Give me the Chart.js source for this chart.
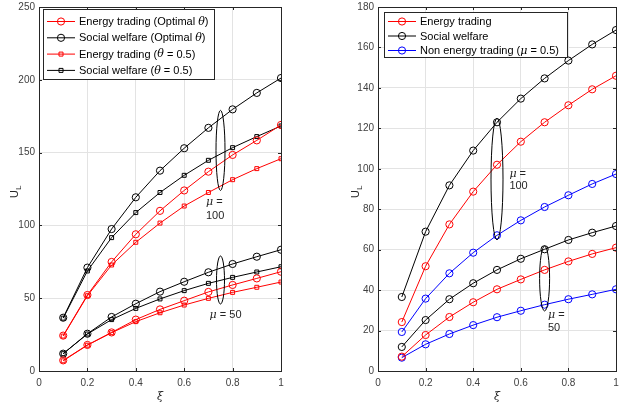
<!DOCTYPE html>
<html lang="en">
<head>
    <meta charset="UTF-8">
    <title>U_L versus xi</title>
    <script src="https://cdn.jsdelivr.net/npm/chart.js"></script>
    <style>
        body { margin: 0; background: #fff; }
        #wrap { position: relative; width: 621px; height: 406px; overflow: hidden; }
        canvas { position: absolute; top: 0; }
        #leftChart { left: 0; }
        #rightChart { left: 320px; }
    </style>
</head>
<body>
    <div id="wrap">
        <canvas id="leftChart" width="320" height="406"></canvas>
        <canvas id="rightChart" width="301" height="406"></canvas>
    </div>
    <script>
        // x values (xi)
        const xi = [0.1, 0.2, 0.3, 0.4, 0.5, 0.6, 0.7, 0.8, 0.9, 1.0];

        // left plot, mu = 100
        const leftSwOpt100 = [36.6, 71.0, 97.5, 119.3, 137.6, 153.0, 167.0, 179.7, 191.0, 201.2];
        const leftSwHalf100 = [36.3, 68.7, 91.6, 108.8, 122.6, 134.4, 144.7, 153.4, 161.0, 168.3];
        const leftEtOpt100 = [24.3, 52.2, 74.9, 93.9, 110.0, 124.0, 136.9, 148.4, 158.4, 169.0];
        const leftEtHalf100 = [24.0, 51.7, 72.8, 88.4, 101.6, 113.3, 122.6, 131.4, 139.0, 145.8];
        // left plot, mu = 50
        const leftSwOpt50 = [11.9, 25.6, 37.1, 46.2, 54.5, 61.3, 67.8, 73.5, 78.5, 83.3];
        const leftSwHalf50 = [11.9, 25.4, 35.3, 43.0, 49.5, 55.2, 60.2, 64.3, 68.0, 71.6];
        const leftEtOpt50 = [7.3, 17.9, 26.5, 35.3, 42.3, 48.3, 54.3, 59.1, 63.6, 68.2];
        const leftEtHalf50 = [7.0, 17.7, 26.3, 33.9, 40.0, 45.3, 49.9, 54.0, 57.5, 61.1];

        // right plot
        const rightSw100 = [36.6, 68.9, 91.8, 109.0, 123.0, 134.7, 144.7, 153.5, 161.5, 168.6];
        const rightEt100 = [24.2, 51.8, 72.5, 88.7, 102.0, 113.4, 123.0, 131.4, 139.3, 146.0];
        const rightNet100 = [19.3, 35.8, 48.3, 58.5, 67.1, 74.5, 81.1, 86.9, 92.5, 97.4];
        const rightSw50 = [11.9, 25.2, 35.5, 43.4, 50.0, 55.5, 60.2, 64.8, 68.4, 71.7];
        const rightEt50 = [7.1, 17.8, 26.7, 34.0, 40.4, 45.3, 50.0, 54.2, 57.9, 61.0];
        const rightNet50 = [6.6, 13.2, 18.3, 22.7, 26.6, 29.8, 32.8, 35.5, 37.9, 40.4];

        // axis ticks
        const xTicks = [0, 0.2, 0.4, 0.6, 0.8, 1];
        const leftYTicks = [0, 50, 100, 150, 200, 250];
        const rightYTicks = [0, 20, 40, 60, 80, 100, 120, 140, 160, 180];

        const RED = '#ff0000', BLACK = '#000000', BLUE = '#0000ff';
        const FRAME = '#262626';
        const FONT = '"Liberation Sans", Arial, sans-serif';

        function pts(ys) {
            return ys.map((y, i) => ({x: xi[i], y: y}));
        }

        function ds(label, ys, color, style) {
            return {
                label: label,
                data: pts(ys),
                borderColor: color,
                backgroundColor: 'rgba(0,0,0,0)',
                borderWidth: 1,
                pointStyle: style,
                pointRadius: style === 'rect' ? 2.8 : 3.6,
                pointBorderColor: color,
                pointBackgroundColor: 'rgba(0,0,0,0)',
                pointBorderWidth: 1,
                tension: 0
            };
        }

        // draw a run of text pieces, some italic serif (greek letters)
        function drawRich(ctx, parts, x, y, size) {
            let cx = x;
            parts.forEach(p => {
                ctx.font = p.it ? 'italic ' + size + 'px "DejaVu Serif", serif' : size + 'px ' + FONT;
                ctx.fillText(p.t, cx, y);
                cx += ctx.measureText(p.t).width;
            });
        }

        const decoPlugin = {
            id: 'deco',
            afterDatasetsDraw(chart, args, opts) {
                const ctx = chart.ctx;
                const a = chart.chartArea;
                const xs = chart.scales.x, ys = chart.scales.y;
                ctx.save();

                // frame and inward ticks
                ctx.strokeStyle = FRAME;
                ctx.lineWidth = 1;
                ctx.strokeRect(Math.round(a.left) + 0.5, Math.round(a.top) + 0.5,
                    Math.round(a.right - a.left), Math.round(a.bottom - a.top));
                ctx.beginPath();
                xTicks.forEach(v => {
                    const px = Math.round(xs.getPixelForValue(v)) + 0.5;
                    ctx.moveTo(px, a.bottom); ctx.lineTo(px, a.bottom - 3);
                    ctx.moveTo(px, a.top); ctx.lineTo(px, a.top + 3);
                });
                opts.yTicks.forEach(v => {
                    const py = Math.round(ys.getPixelForValue(v)) + 0.5;
                    ctx.moveTo(a.left, py); ctx.lineTo(a.left + 3, py);
                    ctx.moveTo(a.right, py); ctx.lineTo(a.right - 3, py);
                });
                ctx.stroke();

                // ellipses marking mu groups
                ctx.strokeStyle = '#000';
                opts.ellipses.forEach(e => {
                    const cx = xs.getPixelForValue(e.x);
                    const t = ys.getPixelForValue(e.yTop), b = ys.getPixelForValue(e.yBottom);
                    ctx.beginPath();
                    ctx.ellipse(cx, (t + b) / 2, e.rx, (b - t) / 2, 0, 0, Math.PI * 2);
                    ctx.stroke();
                });

                // annotation text
                ctx.fillStyle = '#262626';
                ctx.textBaseline = 'middle';
                ctx.textAlign = 'left';
                opts.notes.forEach(n => {
                    drawRich(ctx, n.parts, xs.getPixelForValue(n.x), ys.getPixelForValue(n.y), 11);
                });

                // legend
                const L = opts.legend;
                ctx.fillStyle = '#fff';
                ctx.fillRect(L.x, L.y, L.w, L.h);
                ctx.strokeStyle = FRAME;
                ctx.strokeRect(L.x + 0.5, L.y + 0.5, L.w, L.h);
                L.items.forEach((it, i) => {
                    const y = L.y + L.first + i * L.step;
                    const x0 = L.x + 4, x1 = L.x + 32, xm = (x0 + x1) / 2;
                    ctx.strokeStyle = it.color;
                    ctx.lineWidth = 1;
                    ctx.beginPath();
                    ctx.moveTo(x0, y + 0.5); ctx.lineTo(x1, y + 0.5);
                    ctx.stroke();
                    ctx.beginPath();
                    if (it.style === 'rect') {
                        ctx.rect(xm - 2, y - 1.5, 4, 4);
                    } else {
                        ctx.arc(xm, y + 0.5, 3.6, 0, Math.PI * 2);
                    }
                    ctx.stroke();
                    ctx.fillStyle = '#000';
                    drawRich(ctx, it.parts, L.x + 36, y + 1, 11);
                });

                // axis titles
                ctx.fillStyle = '#262626';
                ctx.save();
                ctx.translate(opts.yTitleX, (a.top + a.bottom) / 2 + 4);
                ctx.rotate(-Math.PI / 2);
                ctx.textAlign = 'left';
                ctx.font = '11px ' + FONT;
                ctx.fillText('U', -5, 0);
                ctx.font = '8px ' + FONT;
                ctx.fillText('L', 3, 4);
                ctx.restore();
                ctx.textAlign = 'center';
                ctx.font = 'italic 11px "DejaVu Serif", serif';
                ctx.fillText('\u03be', (a.left + a.right) / 2, 397);

                ctx.restore();
            }
        };

        function makeChart(id, datasets, yMax, yStep, yTicks, yWidth, padRight, deco) {
            return new Chart(document.getElementById(id), {
                type: 'line',
                data: {datasets: datasets},
                plugins: [decoPlugin],
                options: {
                    responsive: false,
                    animation: false,
                    devicePixelRatio: 1,
                    layout: {padding: {top: 7, right: padRight, left: 0, bottom: 0}},
                    plugins: {
                        legend: {display: false},
                        tooltip: {enabled: false},
                        deco: Object.assign({yTicks: yTicks}, deco)
                    },
                    scales: {
                        x: {
                            type: 'linear', min: 0, max: 1,
                            afterBuildTicks: s => { s.ticks = xTicks.map(v => ({value: v})); },
                            afterFit: s => { s.height = 35; s.paddingLeft = 0; s.paddingRight = 0; },
                            grid: {color: '#e3e3e3', drawTicks: false},
                            border: {display: false},
                            ticks: {
                                color: '#404040', padding: 6, font: {size: 10, family: FONT}, maxRotation: 0,
                                callback: v => String(Math.round(v * 10) / 10)
                            }
                        },
                        y: {
                            type: 'linear', min: 0, max: yMax,
                            afterBuildTicks: s => { s.ticks = yTicks.map(v => ({value: v})); },
                            afterFit: s => { s.width = yWidth; s.paddingTop = 0; s.paddingBottom = 0; },
                            grid: {color: '#e3e3e3', drawTicks: false},
                            border: {display: false},
                            ticks: {
                                color: '#404040', padding: 4, font: {size: 10, family: FONT},
                                callback: v => String(v)
                            }
                        }
                    }
                }
            });
        }

        const th = {t: '\u03b8', it: true};
        const mu = {t: '\u03bc', it: true};

        makeChart('leftChart', [
            ds('Energy trading (Optimal θ)', leftEtOpt100, RED, 'circle'),
            ds('Energy trading (θ = 0.5)', leftEtHalf100, RED, 'rect'),
            ds('Social welfare (Optimal θ)', leftSwOpt100, BLACK, 'circle'),
            ds('Social welfare (θ = 0.5)', leftSwHalf100, BLACK, 'rect'),
            ds('Energy trading (Optimal θ), μ = 50', leftEtOpt50, RED, 'circle'),
            ds('Energy trading (θ = 0.5), μ = 50', leftEtHalf50, RED, 'rect'),
            ds('Social welfare (Optimal θ), μ = 50', leftSwOpt50, BLACK, 'circle'),
            ds('Social welfare (θ = 0.5), μ = 50', leftSwHalf50, BLACK, 'rect')
        ], 250, 50, leftYTicks, 39, 39, {
            yTitleX: 15,
            ellipses: [
                {x: 0.75, yTop: 179, yBottom: 124, rx: 4.5},
                {x: 0.75, yTop: 79, yBottom: 46, rx: 4}
            ],
            notes: [
                {x: 0.69, y: 116, parts: [mu, {t: ' ='}]},
                {x: 0.69, y: 106.5, parts: [{t: '100'}]},
                {x: 0.705, y: 38.5, parts: [mu, {t: ' = 50'}]}
            ],
            legend: {
                x: 43, y: 9, w: 171, h: 70, first: 12, step: 16.3,
                items: [
                    {color: RED, style: 'circle', parts: [{t: 'Energy trading (Optimal '}, th, {t: ')'}]},
                    {color: BLACK, style: 'circle', parts: [{t: 'Social welfare (Optimal '}, th, {t: ')'}]},
                    {color: RED, style: 'rect', parts: [{t: 'Energy trading ('}, th, {t: ' = 0.5)'}]},
                    {color: BLACK, style: 'rect', parts: [{t: 'Social welfare ('}, th, {t: ' = 0.5)'}]}
                ]
            }
        });

        makeChart('rightChart', [
            ds('Energy trading', rightEt100, RED, 'circle'),
            ds('Social welfare', rightSw100, BLACK, 'circle'),
            ds('Non energy trading (μ = 0.5)', rightNet100, BLUE, 'circle'),
            ds('Energy trading, μ = 50', rightEt50, RED, 'circle'),
            ds('Social welfare, μ = 50', rightSw50, BLACK, 'circle'),
            ds('Non energy trading, μ = 50', rightNet50, BLUE, 'circle')
        ], 180, 20, rightYTicks, 58, 2, {
            yTitleX: 36,
            ellipses: [
                {x: 0.5, yTop: 125, yBottom: 64.8, rx: 6},
                {x: 0.7, yTop: 61.8, yBottom: 29.7, rx: 5}
            ],
            notes: [
                {x: 0.552, y: 97.4, parts: [mu, {t: ' ='}]},
                {x: 0.552, y: 91.5, parts: [{t: '100'}]},
                {x: 0.714, y: 27.7, parts: [mu, {t: ' ='}]},
                {x: 0.714, y: 21.5, parts: [{t: '50'}]}
            ],
            legend: {
                x: 64, y: 12, w: 183, h: 45, first: 9, step: 14.5,
                items: [
                    {color: RED, style: 'circle', parts: [{t: 'Energy trading'}]},
                    {color: BLACK, style: 'circle', parts: [{t: 'Social welfare'}]},
                    {color: BLUE, style: 'circle', parts: [{t: 'Non energy trading ('}, mu, {t: ' = 0.5)'}]}
                ]
            }
        });
    </script>
</body>
</html>
